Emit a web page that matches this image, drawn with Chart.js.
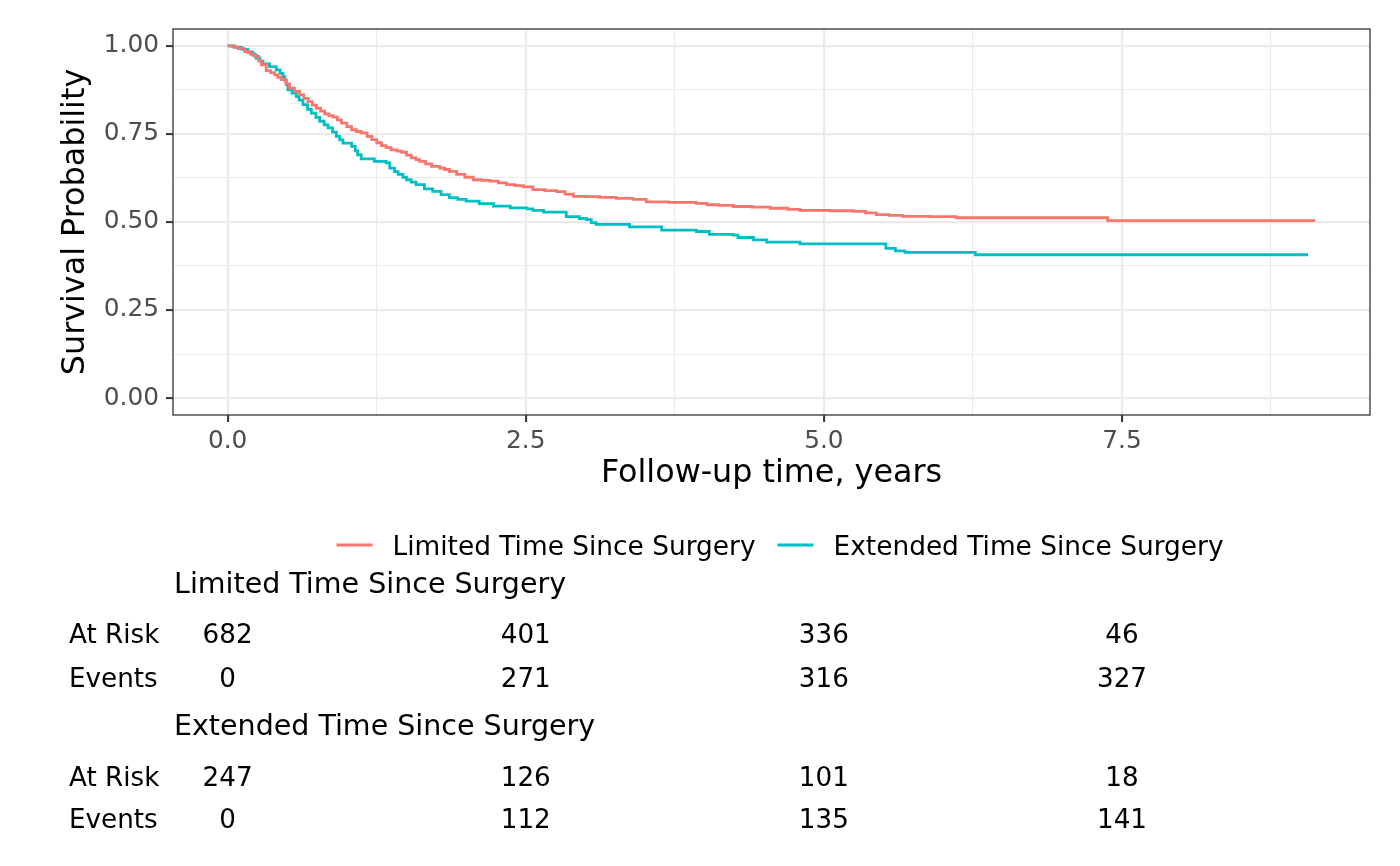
<!DOCTYPE html>
<html>
<head>
<meta charset="utf-8">
<script src="https://cdn.jsdelivr.net/npm/chart.js@4.4.1/dist/chart.umd.min.js"></script>
<style>
  html, body { margin: 0; padding: 0; background: #fff; }
  #wrap { width: 1400px; height: 866px; }
</style>
</head>
<body>
<div id="wrap"><canvas id="km" width="1400" height="866"></canvas></div>
<script>
// survival curves (time in years, survival after each step)
const seriesNames = ['Limited Time Since Surgery', 'Extended Time Since Surgery'];
const seriesColors = ['#F8766D', '#00BFC4'];

const limitedTime = [0, 0.04, 0.09, 0.143, 0.19, 0.226, 0.26, 0.283, 0.324, 0.36, 0.394, 0.42, 0.45, 0.49, 0.52, 0.56, 0.604, 0.64, 0.674, 0.71,
  0.744, 0.78, 0.814, 0.85, 0.884, 0.92, 0.954, 1.0, 1.04, 1.08, 1.12, 1.17, 1.21, 1.25, 1.29, 1.33, 1.37, 1.42, 1.46, 1.5,
  1.54, 1.58, 1.61, 1.66, 1.71, 1.78, 1.82, 1.86, 1.92, 1.99, 2.06, 2.13, 2.2, 2.27, 2.34, 2.41, 2.48, 2.56, 2.66, 2.76,
  2.83, 2.9, 3.0, 3.12, 3.26, 3.4, 3.51, 3.7, 3.93, 4.02, 4.12, 4.24, 4.4, 4.55, 4.7, 4.8, 5.05, 5.25, 5.35, 5.44,
  5.55, 5.66, 5.89, 6.11, 7.38, 9.12];
const limitedSurv = [1.0, 0.997, 0.992, 0.984, 0.977, 0.97, 0.958, 0.946, 0.93, 0.924, 0.918, 0.911, 0.904, 0.892, 0.88, 0.871, 0.861, 0.851, 0.842, 0.832,
  0.823, 0.815, 0.807, 0.802, 0.798, 0.79, 0.781, 0.771, 0.762, 0.757, 0.753, 0.743, 0.734, 0.725, 0.717, 0.711, 0.705, 0.701, 0.698, 0.69,
  0.682, 0.677, 0.672, 0.665, 0.658, 0.653, 0.649, 0.644, 0.635, 0.627, 0.62, 0.618, 0.616, 0.611, 0.606, 0.603, 0.6, 0.592, 0.589, 0.586,
  0.579, 0.573, 0.572, 0.57, 0.567, 0.564, 0.557, 0.556, 0.553, 0.549, 0.547, 0.544, 0.542, 0.539, 0.536, 0.533, 0.532, 0.53, 0.526, 0.521,
  0.519, 0.516, 0.515, 0.512, 0.504, 0.504];

const extendedTime = [0, 0.06, 0.12, 0.17, 0.21, 0.24, 0.27, 0.296, 0.352, 0.408, 0.44, 0.464, 0.48, 0.492, 0.506, 0.54, 0.576, 0.6, 0.632, 0.67,
  0.702, 0.74, 0.772, 0.81, 0.842, 0.88, 0.912, 0.94, 0.967, 1.04, 1.07, 1.09, 1.12, 1.23, 1.33, 1.36, 1.4, 1.43, 1.47, 1.5,
  1.54, 1.58, 1.65, 1.72, 1.79, 1.86, 1.93, 2.0, 2.11, 2.23, 2.37, 2.51, 2.56, 2.65, 2.84, 2.95, 3.01, 3.05, 3.09, 3.37,
  3.64, 3.93, 4.04, 4.24, 4.28, 4.41, 4.52, 4.8, 5.52, 5.6, 5.68, 6.27, 9.06];
const extendedSurv = [1.0, 0.996, 0.99, 0.982, 0.974, 0.965, 0.957, 0.949, 0.941, 0.932, 0.922, 0.913, 0.902, 0.89, 0.875, 0.866, 0.856, 0.846, 0.833, 0.82,
  0.809, 0.797, 0.786, 0.776, 0.767, 0.755, 0.743, 0.733, 0.724, 0.715, 0.702, 0.691, 0.679, 0.672, 0.668, 0.653, 0.643, 0.635, 0.627, 0.62,
  0.613, 0.606, 0.594, 0.587, 0.578, 0.569, 0.564, 0.559, 0.552, 0.545, 0.54, 0.537, 0.533, 0.528, 0.515, 0.51, 0.507, 0.498, 0.493, 0.486,
  0.477, 0.473, 0.465, 0.463, 0.456, 0.449, 0.443, 0.438, 0.425, 0.418, 0.414, 0.407, 0.407];

const xMajor = [0, 2.5, 5, 7.5];
const xMinor = [1.25, 3.75, 6.25, 8.75];
const yMajor = [0, 0.25, 0.5, 0.75, 1];
const yMinor = [0.125, 0.375, 0.625, 0.875];

// risk table
const riskTimes = [0, 2.5, 5, 7.5];
const limitedAtRisk = [682, 401, 336, 46];
const limitedEvents = [0, 271, 316, 327];
const extendedAtRisk = [247, 126, 101, 18];
const extendedEvents = [0, 112, 135, 141];

const FONT = 'DejaVu Sans';
Chart.defaults.font.family = FONT;

const toPoints = (ts, ss) => ts.map((t, i) => ({x: t, y: ss[i]}));
const allTicks = (a, b) => a.concat(b).sort((p, q) => p - q).map(v => ({value: v}));

// panel border, legend and risk table are drawn after the chart
const extras = {
  id: 'extras',
  afterDatasetsDraw(chart){
    const {ctx, chartArea: a} = chart;
    ctx.save();
    ctx.strokeStyle = '#333333';
    ctx.lineWidth = 1.3;
    ctx.strokeRect(a.left, a.top, a.right - a.left, a.bottom - a.top);
    ctx.restore();
  },
  afterDraw(chart){
    const ctx = chart.ctx;
    const xs = chart.scales.x;
    ctx.save();
    ctx.fillStyle = '#000';
    ctx.textBaseline = 'alphabetic';

    // legend
    ctx.font = '26.4px "' + FONT + '"';
    const keyW = 36, keyGap = 20, itemGap = 22;
    const widths = seriesNames.map(n => ctx.measureText(n).width);
    const total = widths.reduce((s, w) => s + w + keyW + keyGap, 0) + itemGap;
    let lx = 780 - total / 2;
    seriesNames.forEach((n, i) => {
      ctx.strokeStyle = seriesColors[i];
      ctx.lineWidth = 3;
      ctx.beginPath();
      ctx.moveTo(lx, 545);
      ctx.lineTo(lx + keyW, 545);
      ctx.stroke();
      ctx.textAlign = 'left';
      ctx.fillText(n, lx + keyW + keyGap, 554.5);
      lx += keyW + keyGap + widths[i] + itemGap;
    });

    // risk table
    const blocks = [
      {title: seriesNames[0], tY: 593, rows: [['At Risk', limitedAtRisk, 643], ['Events', limitedEvents, 686.5]]},
      {title: seriesNames[1], tY: 735, rows: [['At Risk', extendedAtRisk, 786], ['Events', extendedEvents, 828]]}
    ];
    blocks.forEach(b => {
      ctx.font = '28.5px "' + FONT + '"';
      ctx.textAlign = 'left';
      ctx.fillText(b.title, 174, b.tY);
      ctx.font = '26.2px "' + FONT + '"';
      b.rows.forEach(([label, vals, y]) => {
        ctx.textAlign = 'left';
        ctx.fillText(label, 69, y);
        ctx.textAlign = 'center';
        vals.forEach((v, i) => ctx.fillText(String(v), xs.getPixelForValue(riskTimes[i]), y));
      });
    });
    ctx.restore();
  }
};

new Chart(document.getElementById('km'), {
  type: 'line',
  data: {
    datasets: [
      {label: seriesNames[0], data: toPoints(limitedTime, limitedSurv), borderColor: seriesColors[0], backgroundColor: seriesColors[0]},
      {label: seriesNames[1], data: toPoints(extendedTime, extendedSurv), borderColor: seriesColors[1], backgroundColor: seriesColors[1]}
    ]
  },
  options: {
    responsive: false,
    animation: false,
    devicePixelRatio: 1,
    layout: {padding: {left: 0, right: 30, top: 29, bottom: 366}},
    elements: {
      line: {stepped: true, borderWidth: 2.8, tension: 0},
      point: {radius: 0, hoverRadius: 0}
    },
    plugins: {legend: {display: false}, tooltip: {enabled: false}},
    scales: {
      x: {
        type: 'linear',
        min: -0.458,
        max: 9.58,
        afterBuildTicks: s => { s.ticks = allTicks(xMajor, xMinor); },
        afterFit: s => { s.height = 85; },
        border: {display: false},
        grid: {
          color: '#EBEBEB',
          lineWidth: c => xMajor.includes(c.tick.value) ? 2.2 : 1.1,
          tickColor: c => xMajor.includes(c.tick.value) ? '#333333' : 'rgba(0,0,0,0)',
          tickWidth: 2,
          tickLength: 7
        },
        ticks: {
          autoSkip: false, maxRotation: 0, padding: 5,
          color: '#4D4D4D', font: {size: 24.8},
          callback: v => xMajor.includes(v) ? v.toFixed(1) : ''
        },
        title: {display: true, text: 'Follow-up time, years', color: '#000', font: {size: 31.8}, padding: {top: 0, bottom: 7}}
      },
      y: {
        min: -0.048,
        max: 1.048,
        afterBuildTicks: s => { s.ticks = allTicks(yMajor, yMinor); },
        afterFit: s => { s.width = 173; },
        border: {display: false},
        grid: {
          color: '#EBEBEB',
          lineWidth: c => yMajor.includes(c.tick.value) ? 2.2 : 1.1,
          tickColor: c => yMajor.includes(c.tick.value) ? '#333333' : 'rgba(0,0,0,0)',
          tickWidth: 2,
          tickLength: 7
        },
        ticks: {
          autoSkip: false, padding: 7,
          color: '#4D4D4D', font: {size: 24.8},
          callback: v => yMajor.includes(v) ? v.toFixed(2) : ''
        },
        title: {display: true, text: 'Survival Probability', color: '#000', font: {size: 31.8}, padding: {top: 57, bottom: 0}}
      }
    }
  },
  plugins: [extras]
});
</script>
</body>
</html>
